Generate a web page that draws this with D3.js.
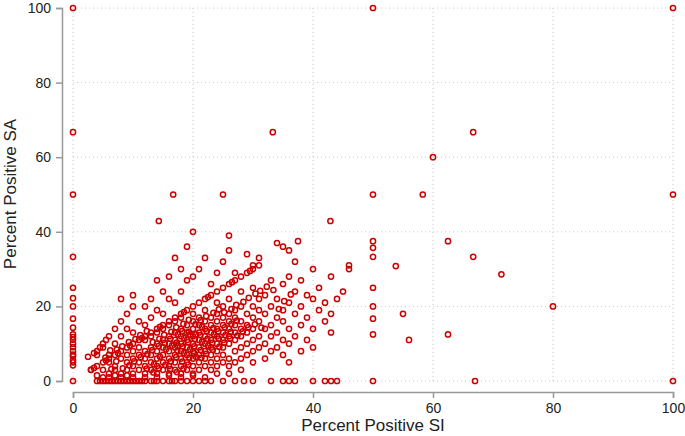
<!DOCTYPE html>
<html>
<head>
<meta charset="utf-8">
<script src="https://cdn.jsdelivr.net/npm/d3@7"></script>
<style>
  body { margin: 0; background: #fff; }
  text { font-family: "Liberation Sans", Arial, sans-serif; }
</style>
</head>
<body>
<div id="app"></div>
<script>
// Points on the SA = 0 row (x values)
const zeroRowX = [4, 4.5, 5, 5.5, 6, 6.5, 7, 7.5, 8, 8.5, 9, 9.5, 10, 10.5, 11, 11.5, 12, 13, 13.5, 14, 15,
  16, 16.5, 17, 18, 19, 20, 21, 22, 23, 25, 27, 28.5, 30, 33, 35, 36, 37, 40, 42, 43, 44, 50, 67, 100];

// Points on the SI = 0 column (y values)
const zeroColY = [100, 66.7, 50, 33.3, 25, 22.2, 20, 16.7, 14.3, 12.5, 11.8, 11.1, 10, 9.1, 8, 7.1, 6.7, 5.6, 5, 4.2, 0];

// Sparse outliers
const outliers = [[50, 100], [100, 100], [33.3, 66.7], [66.7, 66.7], [60, 60], [16.7, 50], [25, 50], [50, 50],
  [58.3, 50], [100, 50], [14.3, 42.9], [42.9, 42.9], [20, 40], [26, 39], [37.5, 37.5], [50, 37.5], [62.5, 37.5],
  [50, 35.7], [50, 33.3], [66.7, 33.3], [71.4, 28.6], [53.8, 30.8], [80, 20], [50, 25], [50, 20], [50, 16.7],
  [55, 18], [56, 11], [62.5, 12.5], [50, 12.5], [46, 30], [43, 28]];

// Streaks where SA equals SI, and SA is twice SI
const diagonal = [[3, 3], [4, 4], [5, 5], [6, 6], [7, 7], [8, 8], [9, 9], [10, 10], [11, 11], [12, 12], [13, 13],
  [14, 14], [15, 15], [16, 16], [17, 17], [18, 18], [19, 19], [20, 20], [21, 21], [22, 22], [23, 23], [24, 24],
  [25, 25], [26, 26], [27, 27], [28, 28], [29, 29], [30, 30], [31, 31], [14.5, 14.5], [18.5, 18.5], [22.5, 22.5],
  [3.5, 3.5], [5.5, 5.5], [7.5, 7.5], [9.5, 9.5], [11.5, 11.5], [26.5, 26.5], [29.5, 29.5]];
const doubleLine = [[2.5, 6.5], [3.5, 7.5], [4, 8], [4.5, 9], [5, 10], [5.5, 11], [6, 12], [7, 14], [8, 16], [9, 18], [10, 20]];

// Main cloud
const cloud = [[5, 3], [6, 2], [6, 5], [7, 3], [7, 4], [8, 2], [8, 6], [9, 3], [9, 5], [9, 7], [10, 2], [10, 4], [10, 6],
  [10, 8], [11, 3], [11, 5], [11, 7], [11, 9], [12, 2], [12, 4], [12, 6], [12, 8], [12, 11], [13, 3], [13, 5], [13, 7],
  [13, 9], [13, 12], [14, 2], [14, 4], [14, 6], [14, 8], [14, 10], [14, 13], [15, 3], [15, 5], [15, 7], [15, 9],
  [15, 11], [15, 14], [16, 2], [16, 4], [16, 6], [16, 8], [16, 10], [16, 12], [16, 15], [17, 3], [17, 5], [17, 7],
  [17, 9], [17, 11], [17, 13], [17, 16], [18, 2], [18, 4], [18, 6], [18, 8], [18, 10], [18, 12], [18, 14], [18, 17],
  [19, 3], [19, 5], [19, 7], [19, 9], [19, 11], [19, 13], [19, 15], [20, 2], [20, 4], [20, 6], [20, 8], [20, 10],
  [20, 12], [20, 14], [20, 16], [20, 18], [21, 3], [21, 5], [21, 7], [21, 9], [21, 11], [21, 13], [21, 15], [21, 17],
  [22, 4], [22, 6], [22, 8], [22, 10], [22, 12], [22, 14], [22, 16], [22, 19], [23, 3], [23, 5], [23, 7], [23, 9],
  [23, 11], [23, 13], [23, 15], [23, 17], [24, 4], [24, 6], [24, 8], [24, 10], [24, 12], [24, 14], [24, 16], [24, 18],
  [24, 21], [25, 5], [25, 7], [25, 9], [25, 11], [25, 13], [25, 15], [25, 17], [25, 20], [26, 4], [26, 6], [26, 10],
  [26, 12], [26, 14], [26, 16], [26, 18], [26, 22], [27, 5], [27, 8], [27, 11], [27, 13], [27, 15], [27, 17], [27, 19],
  [28, 6], [28, 9], [28, 12], [28, 14], [28, 16], [28, 20], [28, 24], [29, 7], [29, 10], [29, 13], [29, 15], [29, 18],
  [30, 5], [30, 8], [30, 11], [30, 14], [30, 17], [30, 20], [30, 25], [31, 9], [31, 12], [31, 16], [31, 19], [31, 22],
  [32, 6], [32, 10], [32, 14], [32, 18], [32, 23], [33, 8], [33, 12], [33, 15], [33, 20], [33, 27], [34, 9], [34, 13],
  [34, 17], [34, 22], [35, 7], [35, 11], [35, 16], [35, 19], [35, 26], [36, 5], [36, 10], [36, 14], [36, 21], [36, 28],
  [37, 12], [37, 18], [37, 24], [38, 8], [38, 15], [38, 20], [38, 27], [39, 11], [39, 17], [39, 23], [40, 14],
  [40, 22], [40, 30], [40, 9], [41, 19], [41, 25], [42, 16], [42, 21], [43, 13], [43, 18], [44, 22], [45, 24], [46, 31],
  [5, 9], [6, 7], [7, 10], [8, 12], [8, 22], [9, 14], [10, 13], [10, 23], [11, 16], [12, 15], [12, 20], [13, 17],
  [13, 22], [14, 19], [14, 27], [15, 18], [15, 24], [16, 22], [16, 28], [17, 21], [17, 33], [18, 24], [18, 30],
  [19, 27], [19, 36], [20, 28], [21, 30], [22, 33], [23, 26], [24, 29], [25, 32], [26, 35], [27, 29], [29, 34],
  [30, 31], [31, 33], [34, 37], [35, 36], [36, 35], [37, 32],
  [3, 3], [4, 1.5], [4, 7], [5, 1], [6, 1], [7, 1.5], [8, 1], [9, 1.5], [10, 1], [12, 1], [14, 1], [16, 1.5], [18, 1],
  [20, 1.5], [22, 1], [24, 2], [26, 2], [28, 3],
  [17.5, 9.5], [18.5, 11.5], [19.5, 8.5], [20.5, 12.5], [21.5, 10.5], [22.5, 9.5], [19.5, 12.5], [18.5, 7.5],
  [16.5, 9.5], [20.5, 6.5], [21.5, 14.5], [23.5, 12.5], [17.5, 12.5], [15.5, 8.5], [14.5, 6.5], [13.5, 4.5]];

// Extra points filling the dense core
const core = [[15.3, 10.2], [16.2, 11.3], [17.4, 8.1], [18.3, 9.3], [19.2, 10.4], [20.3, 11.2], [21.3, 8.3],
  [22.4, 11.3], [23.2, 10.2], [24.3, 11.4], [25.4, 12.3], [26.3, 13.2], [17.2, 14.4], [18.4, 15.3], [19.3, 16.4],
  [20.4, 15.2], [21.2, 12.3], [22.3, 13.4], [23.4, 14.2], [24.2, 13.3], [25.3, 14.4], [26.4, 15.3], [27.3, 16.2],
  [14.3, 9.4], [13.2, 8.3], [12.4, 7.2], [11.3, 6.4], [10.2, 5.3], [9.4, 4.2], [8.3, 3.4], [7.2, 5.3], [6.4, 3.2],
  [16.3, 5.3], [17.2, 6.4], [18.2, 5.2], [19.4, 6.3], [20.2, 7.4], [21.4, 6.2], [22.2, 7.3], [23.3, 8.4],
  [24.4, 9.2], [25.2, 10.3], [26.2, 11.4], [27.4, 12.2], [28.3, 13.3], [29.2, 14.4], [30.3, 15.2], [31.4, 14.3],
  [19.3, 13.2], [20.2, 9.3], [18.2, 13.4], [17.3, 10.3], [16.4, 13.2], [15.2, 12.4], [14.4, 11.3], [13.3, 10.4],
  [21.3, 16.3], [22.2, 17.4], [23.4, 18.3], [24.3, 19.2], [25.2, 18.4], [26.4, 19.3], [27.2, 20.4], [28.4, 21.2],
  [29.3, 22.3], [30.4, 23.4], [31.2, 24.2], [32.3, 25.3], [33.4, 24.4], [34.3, 19.3], [35.2, 21.4], [36.3, 23.2],
  [12.3, 3.3], [13.4, 2.3], [14.3, 3.4], [15.4, 4.3], [16.2, 3.2], [17.3, 2.4], [18.4, 3.3], [19.2, 4.4],
  [9.3, 10.4], [10.4, 11.2], [11.2, 12.3], [12.3, 13.4], [8.2, 9.3], [7.3, 8.4], [6.2, 8.2], [5.4, 6.3]];

const ticks = [0, 20, 40, 60, 80, 100];

const points = [
  ...zeroRowX.map(x => [x, 0]),
  ...zeroColY.map(y => [0, y]),
  ...outliers, ...diagonal, ...doubleLine, ...cloud, ...core
];

const width = 685, height = 436;
const x = d3.scaleLinear().domain([0, 100]).range([73, 673]);
const y = d3.scaleLinear().domain([0, 100]).range([381, 8]);

const svg = d3.select("#app").append("svg")
  .attr("width", width).attr("height", height);

// Dotted grid
svg.append("g").selectAll("line").data(ticks).join("line")
  .attr("x1", d => x(d)).attr("x2", d => x(d))
  .attr("y1", y(0)).attr("y2", y(100))
  .attr("stroke", "#c8c8c8").attr("stroke-dasharray", "1,3");
svg.append("g").selectAll("line").data(ticks).join("line")
  .attr("y1", d => y(d)).attr("y2", d => y(d))
  .attr("x1", x(0)).attr("x2", x(100))
  .attr("stroke", "#c8c8c8").attr("stroke-dasharray", "1,3");

// Axes
const xAxis = svg.append("g").attr("transform", "translate(0,392)")
  .call(d3.axisBottom(x).tickValues(ticks).tickSize(6).tickPadding(5));
const yAxis = svg.append("g").attr("transform", "translate(62,0)")
  .call(d3.axisLeft(y).tickValues(ticks).tickSize(6).tickPadding(5));
[xAxis, yAxis].forEach(g => {
  g.select(".domain").attr("stroke", "#999").attr("stroke-width", 1.5);
  g.selectAll(".tick line").attr("stroke", "#999").attr("stroke-width", 1.5);
  g.selectAll(".tick text").attr("font-size", 14).attr("fill", "#222")
    .attr("font-family", "Liberation Sans, Arial, sans-serif");
});

// Points
svg.append("g").selectAll("circle").data(points).join("circle")
  .attr("cx", d => x(d[0])).attr("cy", d => y(d[1]))
  .attr("r", 2.6)
  .attr("fill", "none")
  .attr("stroke", "#cc0000")
  .attr("stroke-width", 1.5);

// Titles
svg.append("text").attr("x", 373).attr("y", 431)
  .attr("text-anchor", "middle").attr("font-size", 17).attr("fill", "#222")
  .text("Percent Positive SI");
svg.append("text").attr("transform", "translate(16,194) rotate(-90)")
  .attr("text-anchor", "middle").attr("font-size", 17).attr("fill", "#222")
  .text("Percent Positive SA");
</script>
</body>
</html>
